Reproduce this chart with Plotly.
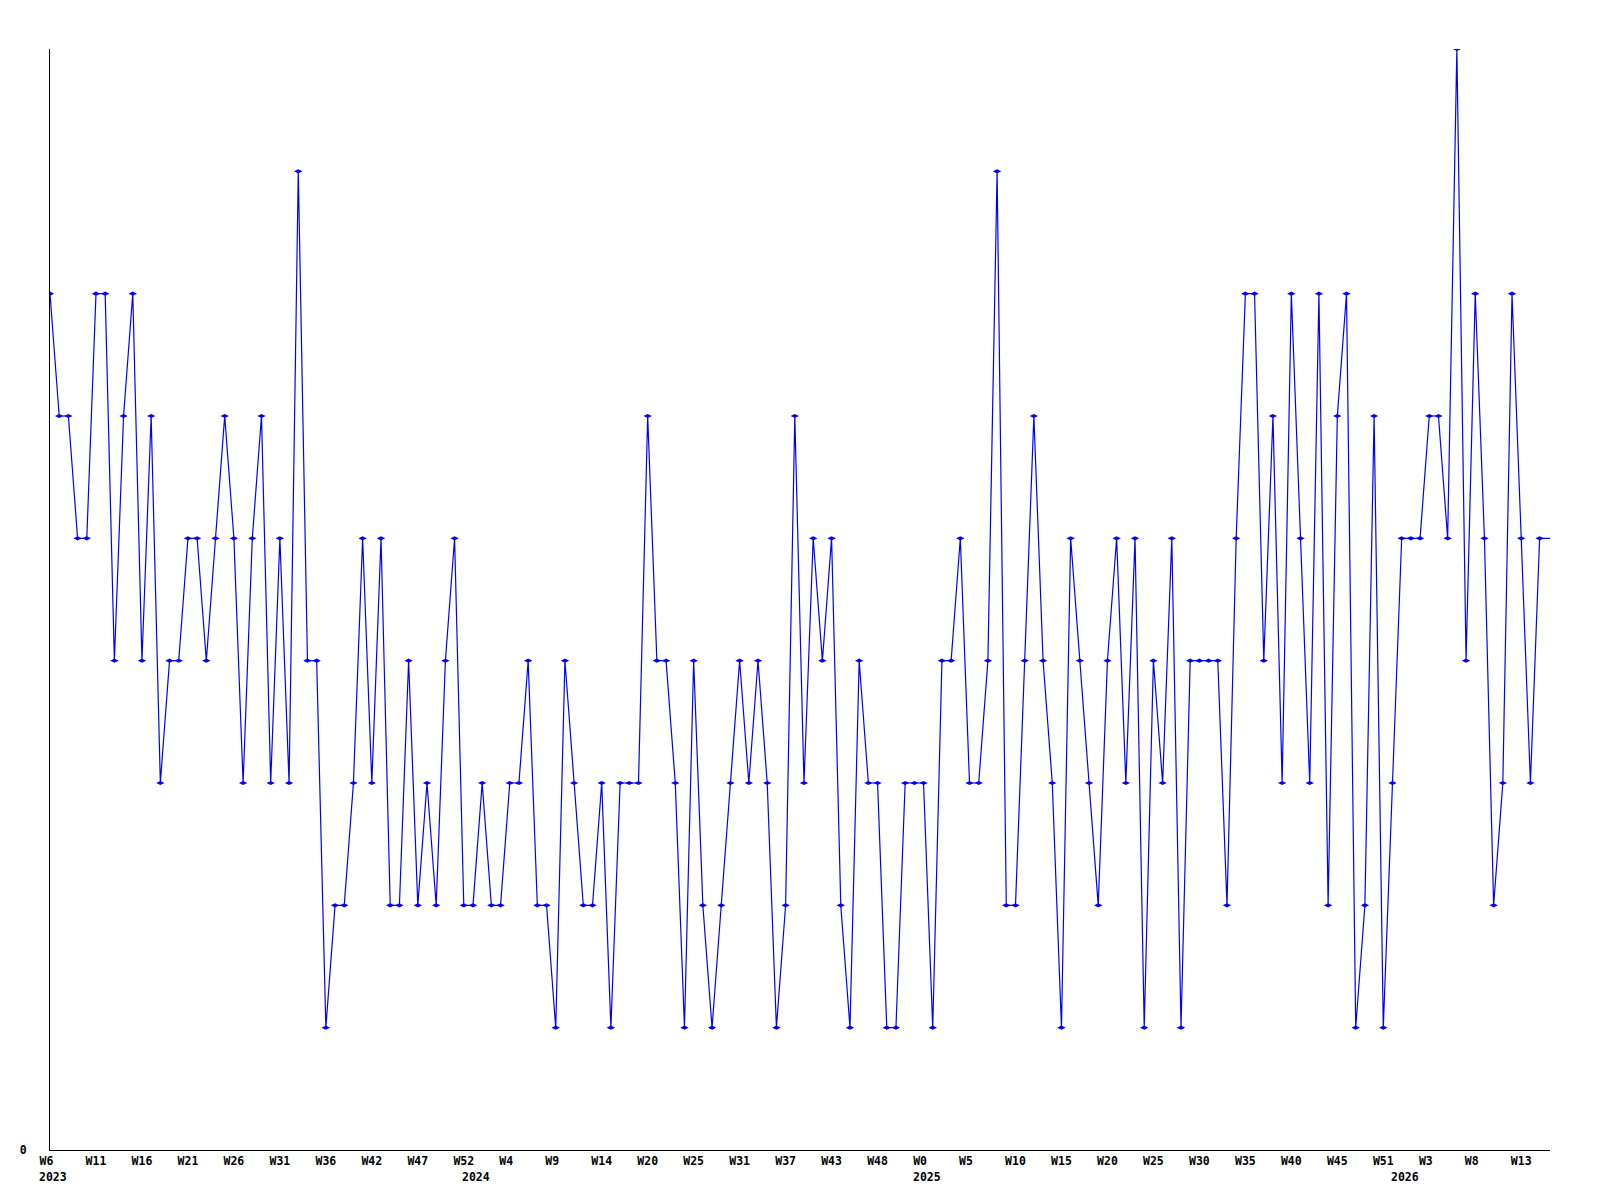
import plotly.graph_objects as go

# Weekly values, one per week starting at W6 2023
values = [
    7, 6, 6, 5, 5, 7, 7, 4, 6, 7, 4, 6, 3, 4, 4, 5, 5, 4, 5, 6,
    5, 3, 5, 6, 3, 5, 3, 8, 4, 4, 1, 2, 2, 3, 5, 3, 5, 2, 2, 4,
    2, 3, 2, 4, 5, 2, 2, 3, 2, 2, 3, 3, 4, 2, 2, 1, 4, 3, 2, 2,
    3, 1, 3, 3, 3, 6, 4, 4, 3, 1, 4, 2, 1, 2, 3, 4, 3, 4, 3, 1,
    2, 6, 3, 5, 4, 5, 2, 1, 4, 3, 3, 1, 1, 3, 3, 3, 1, 4, 4, 5,
    3, 3, 4, 8, 2, 2, 4, 6, 4, 3, 1, 5, 4, 3, 2, 4, 5, 3, 5, 1,
    4, 3, 5, 1, 4, 4, 4, 4, 2, 5, 7, 7, 4, 6, 3, 7, 5, 3, 7, 2,
    6, 7, 1, 2, 6, 1, 3, 5, 5, 5, 6, 6, 5, 9, 4, 7, 5, 2, 3, 7,
    5, 3, 5,
]
# current (partial) week, fraction of a week after the last full one
partial_week_fraction = 1.13

# x tick labels, one every 5 weeks
week_tick_labels = [
    "W6", "W11", "W16", "W21", "W26", "W31", "W36", "W42", "W47", "W52",
    "W4", "W9", "W14", "W20", "W25", "W31", "W37", "W43", "W48", "W0",
    "W5", "W10", "W15", "W20", "W25", "W30", "W35", "W40", "W45", "W51",
    "W3", "W8", "W13",
]
tick_every = 5

# year labels and the week index at which each year starts
year_labels = ["2023", "2024", "2025", "2026"]
year_start_week = [0, 46, 95, 147]

x = list(range(len(values)))
x_line = x + [x[-1] + partial_week_fraction]
y_line = values + [values[-1]]

FONT = "DejaVu Sans Mono"
BLUE = "#0000FF"

fig = go.Figure()
fig.add_trace(go.Scatter(
    x=x_line, y=y_line, mode="lines",
    line=dict(color=BLUE, width=1.2),
    hoverinfo="skip", showlegend=False,
))
fig.add_trace(go.Scatter(
    x=x, y=values, mode="markers",
    marker=dict(symbol="diamond-wide", size=6, color=BLUE, line=dict(width=0)),
    showlegend=False,
))

tickvals = [i * tick_every for i in range(len(week_tick_labels))]
ticktext = [t + "\u00a0" * (3 - len(t)) for t in week_tick_labels]

for lab, w in zip(year_labels, year_start_week):
    fig.add_annotation(
        x=w, xref="x", y=0, yref="paper",
        text=lab, showarrow=False,
        xanchor="left", yanchor="middle",
        xshift=-13, yshift=-27,
        font=dict(family=FONT, size=11.5, color="black", weight="bold"),
    )

# the page body adds an 8px offset; compensate in the margins
fig.update_layout(
    width=1600, height=1200,
    margin=dict(l=42, r=58, t=41, b=58),
    paper_bgcolor="white", plot_bgcolor="white",
    showlegend=False,
    xaxis=dict(
        range=[0, x_line[-1]],
        tickmode="array", tickvals=tickvals, ticktext=ticktext,
        tickangle=0, ticks="", showgrid=False, zeroline=False,
        showline=True, linecolor="black", linewidth=1,
        tickfont=dict(family=FONT, size=11.5, color="black", weight="bold"),
        ticklabelstandoff=0,
    ),
    yaxis=dict(
        range=[0, 9],
        tickmode="array", tickvals=[0], ticktext=["0"],
        ticks="", showgrid=False, zeroline=False,
        showline=True, linecolor="black", linewidth=1,
        tickfont=dict(family=FONT, size=11.5, color="black", weight="bold"),
        ticklabelstandoff=20,
    ),
)

fig.write_html("out.html")
